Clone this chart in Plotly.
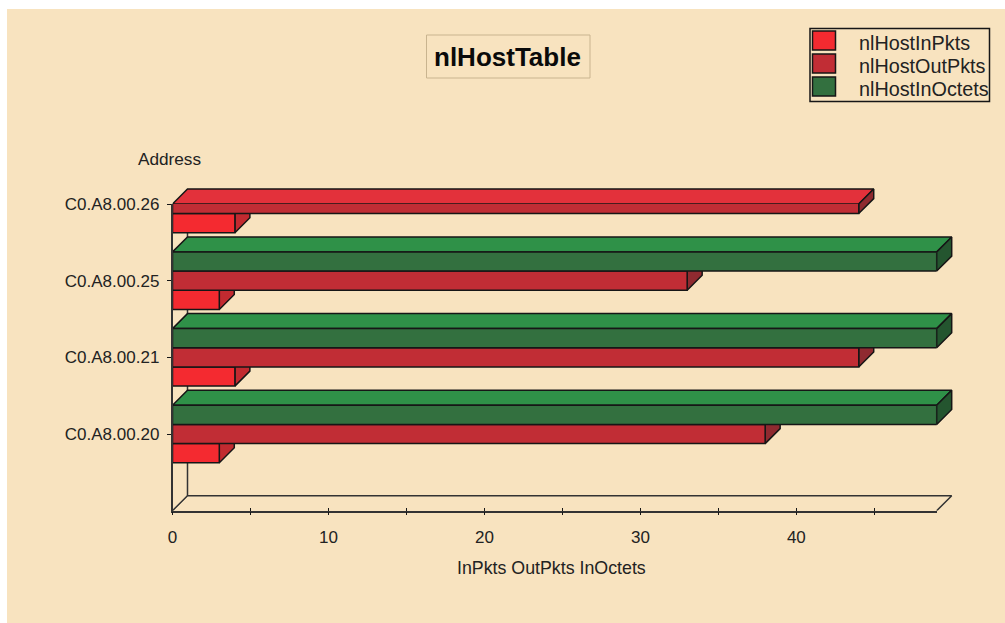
import plotly.graph_objects as go

WIDTH, HEIGHT = 1005, 623

# Chart data
addresses = ["C0.A8.00.20", "C0.A8.00.21", "C0.A8.00.25", "C0.A8.00.26"]
address_slots = [1, 2, 3, 4]
in_pkts = [3, 4, 3, 4]
out_pkts = [38, 44, 33, 44]
in_octets = [49, 49, 49, None]
series_names = ["nlHostInPkts", "nlHostOutPkts", "nlHostInOctets"]
x_ticks = [0, 5, 10, 15, 20, 25, 30, 35, 40, 45]
x_tick_labels = ["0", "", "10", "", "20", "", "30", "", "40", ""]

# Styling
PAGE = "#f8e3bf"
INK = "#222222"
EDGE = "#161616"
FONT = "Liberation Sans, Arial, sans-serif"
FRONT = ["#f42a30", "#c12d35", "#33703f"]
TOP = ["#f42a30", "#e3313b", "#2f9148"]
SIDE = ["#c22a30", "#8f2a30", "#24552f"]
LINE_WIDTH = 1.5

# Plot rectangle in pixels, and the axis ranges it shows
LEFT, RIGHT, TOP_PX, BOTTOM_PX = 172.5, 936.7, 204.0, 510.7
X_MAX, Y_MAX = 49, 4
BAR_GAP = 0.25
BAR_HEIGHT = (1 - BAR_GAP) / 3
X_PER_PX = X_MAX / (RIGHT - LEFT)
Y_PER_PX = Y_MAX / (BOTTOM_PX - TOP_PX)
# Depth of the extruded bars: 15 px right and 15 px up, in axis units
DEPTH_X = 15 * X_PER_PX
DEPTH_Y = 15 * Y_PER_PX
# The face subplot reaches a little past the depth so its outlines are not cut
REACH_PX = 18


def px(x):
    return x / WIDTH


def py(y):
    return 1 - y / HEIGHT


def face_paths(values, series_index):
    """Outline coordinates for the top and end faces of one series' bars."""
    top_x, top_y, side_x, side_y = [], [], [], []
    for slot, value in zip(address_slots, values):
        if value is None:
            continue
        low = slot + (series_index - 1.5) * BAR_HEIGHT
        high = min(low + BAR_HEIGHT, Y_MAX)
        top_x += [0, value, value + DEPTH_X, DEPTH_X, 0, None]
        top_y += [high, high, high + DEPTH_Y, high + DEPTH_Y, high, None]
        side_x += [value, value, value + DEPTH_X, value + DEPTH_X, value, None]
        side_y += [low, high, high + DEPTH_Y, low + DEPTH_Y, low, None]
    return top_x, top_y, side_x, side_y


fig = go.Figure()

# Back walls and floor of the box
frame_x = [DEPTH_X, DEPTH_X, None, 0, DEPTH_X, X_MAX + DEPTH_X, X_MAX]
frame_y = [DEPTH_Y, Y_MAX + DEPTH_Y, None, 0, DEPTH_Y, DEPTH_Y, 0]
fig.add_trace(go.Scatter(
    x=frame_x, y=frame_y, mode="lines", showlegend=False,
    hoverinfo="skip", line=dict(color="#333333", width=LINE_WIDTH),
))

# Extruded faces sit on the first subplot, the bar fronts on the second, above it
all_values = [in_pkts, out_pkts, in_octets]
for i, values in enumerate(all_values):
    top_x, top_y, side_x, side_y = face_paths(values, i)
    for xs, ys, colour in ((top_x, top_y, TOP[i]), (side_x, side_y, SIDE[i])):
        fig.add_trace(go.Scatter(
            x=xs, y=ys, mode="lines", fill="toself", fillcolor=colour,
            showlegend=False, hoverinfo="skip",
            line=dict(color=EDGE, width=LINE_WIDTH),
        ))

for i, values in enumerate(all_values):
    fig.add_trace(go.Bar(
        y=address_slots, x=values, name=series_names[i], orientation="h",
        xaxis="x2", yaxis="y2", showlegend=False,
        marker=dict(color=FRONT[i], line=dict(color=EDGE, width=LINE_WIDTH)),
    ))

tick_font = dict(family=FONT, size=17, color=INK)

fig.update_layout(
    width=WIDTH, height=HEIGHT,
    margin=dict(l=0, r=0, t=0, b=0, autoexpand=False),
    paper_bgcolor="white", plot_bgcolor="rgba(0,0,0,0)",
    barmode="group", bargap=BAR_GAP, bargroupgap=0,
    showlegend=False,
    # Subplot for faces: same scale as the bars, with room for the depth
    xaxis=dict(
        domain=[px(LEFT), px(RIGHT + REACH_PX)],
        range=[0, X_MAX + REACH_PX * X_PER_PX], anchor="y",
        tickmode="array", tickvals=x_ticks, ticktext=[""] * len(x_ticks),
        ticks="inside", ticklen=3, tickwidth=1.2, tickcolor=EDGE,
        showline=False, showgrid=False, zeroline=False,
    ),
    yaxis=dict(
        domain=[py(BOTTOM_PX), py(TOP_PX - REACH_PX)],
        range=[0, Y_MAX + REACH_PX * Y_PER_PX], anchor="x", visible=False,
    ),
    # Subplot for bars: carries the visible axes and clips at the top value
    xaxis2=dict(
        domain=[px(LEFT), px(RIGHT)], range=[0, X_MAX], anchor="y2",
        tickmode="array", tickvals=x_ticks, ticktext=x_tick_labels,
        ticks="outside", ticklen=3, tickwidth=1.2, tickcolor=EDGE,
        showline=True, linecolor="#333333", linewidth=LINE_WIDTH,
        showgrid=False, zeroline=False, tickfont=tick_font,
        ticklabelstandoff=7,
    ),
    yaxis2=dict(
        domain=[py(BOTTOM_PX), py(TOP_PX)], range=[0, Y_MAX], anchor="x2",
        tickmode="array", tickvals=address_slots, ticktext=addresses,
        ticks="outside", ticklen=4, tickwidth=1.2, tickcolor=EDGE,
        showline=True, linecolor="#333333", linewidth=LINE_WIDTH,
        showgrid=False, zeroline=False, tickfont=tick_font,
        ticklabelstandoff=4,
    ),
)

# Page panel, title frame, legend box and swatches
shapes = [
    dict(type="rect", xref="paper", yref="paper", layer="below",
         x0=px(7), x1=1, y0=0, y1=py(9),
         fillcolor=PAGE, line=dict(width=0)),
    dict(type="rect", xref="paper", yref="paper", layer="below",
         x0=px(426.5), x1=px(590), y0=py(78), y1=py(35),
         fillcolor="rgba(0,0,0,0)", line=dict(color="#c9b48f", width=1)),
    dict(type="rect", xref="paper", yref="paper", layer="above",
         x0=px(810), x1=px(989.5), y0=py(101.5), y1=py(28.5),
         fillcolor="rgba(0,0,0,0)", line=dict(color=EDGE, width=1.5)),
]
annotations = [
    dict(text="<b>nlHostTable</b>", xref="paper", yref="paper",
         x=px(507), y=py(57), xanchor="center", yanchor="middle",
         showarrow=False, font=dict(family=FONT, size=26, color="#0a0a0a")),
    dict(text="Address", xref="paper", yref="paper",
         x=px(169), y=py(159), xanchor="center", yanchor="middle",
         showarrow=False, font=dict(family=FONT, size=17.2, color=INK)),
    dict(text="InPkts OutPkts InOctets", xref="paper", yref="paper",
         x=px(551), y=py(568), xanchor="center", yanchor="middle",
         showarrow=False, font=dict(family=FONT, size=17.8, color=INK)),
]
row_tops = [31, 54, 77]
for name, colour, row_top in zip(series_names, FRONT, row_tops):
    shapes.append(dict(
        type="rect", xref="paper", yref="paper", layer="above",
        x0=px(812.5), x1=px(835.5), y0=py(row_top + 19), y1=py(row_top),
        fillcolor=colour, line=dict(color=EDGE, width=1.5),
    ))
    annotations.append(dict(
        text=name, xref="paper", yref="paper",
        x=px(857), y=py(row_top + 12), xanchor="left", yanchor="middle",
        showarrow=False, font=dict(family=FONT, size=19.8, color=INK),
    ))
fig.update_layout(shapes=shapes, annotations=annotations)

fig.write_html("out.html", config=dict(displayModeBar=False))
